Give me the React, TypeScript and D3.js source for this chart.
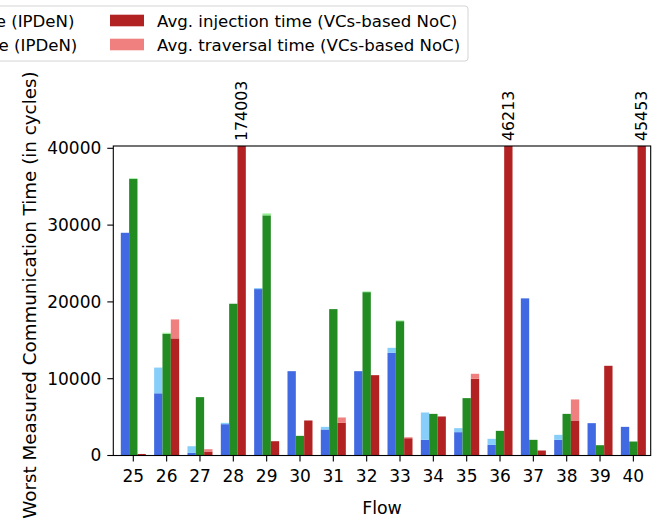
import React from 'react';
import * as d3 from 'd3';

const flows = ['25', '26', '27', '28', '29', '30', '31', '32', '33', '34', '35', '36', '37', '38', '39', '40'];
// baseline (blue), IPDeN (green), VCs-based NoC (red)
const blueInj = [29000, 8100, 340, 4080, 21670, 10980, 3390, 10980, 13370, 2040, 3040, 1380, 20460, 2040, 4210, 3730];
const blueTrav = [0, 3350, 870, 170, 130, 0, 340, 0, 650, 3560, 520, 790, 0, 650, 0, 0];
const greenInj = [36000, 15850, 7600, 19760, 31270, 2560, 19060, 21270, 17490, 5420, 7470, 3210, 2040, 5420, 1340, 1820];
const greenTrav = [100, 130, 0, 0, 250, 0, 0, 100, 100, 0, 0, 0, 0, 0, 0, 0];
const redInj = [200, 15250, 520, 174003, 1860, 4560, 4250, 10460, 2250, 5080, 9990, 46213, 650, 4560, 11680, 45453];
const redTrav = [0, 2470, 300, 0, 0, 0, 700, 0, 130, 0, 650, 0, 0, 2740, 0, 0];
const yTicks = [0, 10000, 20000, 30000, 40000];

const legendItems = [
  { label: 'Avg. injection time (Baseline)', color: 'royalblue' },
  { label: 'Avg. traversal time (Baseline)', color: 'lightskyblue' },
  { label: 'Avg. injection time (IPDeN)', color: 'forestgreen' },
  { label: 'Avg. traversal time (IPDeN)', color: 'lightgreen' },
  { label: 'Avg. injection time (VCs-based NoC)', color: 'firebrick' },
  { label: 'Avg. traversal time (VCs-based NoC)', color: 'lightcoral' },
];

const FONT = 'DejaVu Sans, sans-serif';

export default function App() {
  const left = 113.3, right = 650.7, top = 146, bottom = 455.5;
  const yMax = 40300;

  const x = d3.scaleLinear().domain([-0.6, flows.length - 1 + 0.52]).range([left, right]);
  const y = d3.scaleLinear().domain([0, yMax]).range([bottom, top]);
  const w = 0.25;
  const bw = x(w) - x(0);

  const series = [
    { inj: blueInj, trav: blueTrav, off: -w, c1: 'royalblue', c2: 'lightskyblue' },
    { inj: greenInj, trav: greenTrav, off: 0, c1: 'forestgreen', c2: 'lightgreen' },
    { inj: redInj, trav: redTrav, off: w, c1: 'firebrick', c2: 'lightcoral' },
  ];

  // legend columns (the box runs off the left edge)
  const colX = [-430, -196, 110];
  const rowY = [20.5, 44.5];

  return (
    <svg width={661} height={523} style={{ position: 'fixed', left: 0, top: 0, background: 'white' }} fontFamily={FONT}>
      <defs>
        <clipPath id="plot">
          <rect x={left} y={top} width={right - left} height={bottom - top} />
        </clipPath>
      </defs>

      <g clipPath="url(#plot)">
        {series.map((s, si) =>
          flows.map((f, i) => {
            const cx = x(i + s.off);
            const total = s.inj[i] + s.trav[i];
            return (
              <g key={`${si}-${i}`}>
                <rect x={cx - bw / 2} y={y(s.inj[i])} width={bw} height={y(0) - y(s.inj[i])} fill={s.c1} />
                {s.trav[i] > 0 && (
                  <rect x={cx - bw / 2} y={y(total)} width={bw} height={y(s.inj[i]) - y(total)} fill={s.c2} />
                )}
              </g>
            );
          })
        )}
      </g>

      {/* overflow labels */}
      {flows.map((f, i) => {
        const total = redInj[i] + redTrav[i];
        if (total <= yMax) return null;
        const cx = x(i + w);
        return (
          <text key={`a${i}`} transform={`translate(${cx},${top - 5}) rotate(-90)`} fontSize={15.8} dy="0.36em" fill="#000">
            {total}
          </text>
        );
      })}

      {/* frame */}
      <rect x={left} y={top} width={right - left} height={bottom - top} fill="none" stroke="#000" strokeWidth={1.1} />

      {/* y axis */}
      {yTicks.map((t) => (
        <g key={`y${t}`} transform={`translate(0,${y(t)})`}>
          <line x1={left - 6} x2={left} stroke="#000" strokeWidth={1.1} />
          <text x={left - 12} dy="0.35em" textAnchor="end" fontSize={17}>{t}</text>
        </g>
      ))}

      {/* x axis */}
      {flows.map((f, i) => (
        <g key={`x${f}`} transform={`translate(${x(i)},0)`}>
          <line y1={bottom} y2={bottom + 6} stroke="#000" strokeWidth={1.1} />
          <text y={481.7} textAnchor="middle" fontSize={17}>{f}</text>
        </g>
      ))}

      <text x={(left + right) / 2} y={514} textAnchor="middle" fontSize={17.4}>Flow</text>
      <text transform={`translate(36,295) rotate(-90)`} textAnchor="middle" fontSize={18.3}>
        Worst Measured Communication Time (in cycles)
      </text>

      {/* legend */}
      <rect x={-700} y={6} width={1168} height={55} rx={3} fill="white" fillOpacity={0.8} stroke="#d4d4d4" strokeWidth={1} />
      {legendItems.map((it, k) => {
        const col = Math.floor(k / 2);
        const row = k % 2;
        return (
          <g key={`l${k}`}>
            <rect x={colX[col]} y={rowY[row] - 5.8} width={34} height={11.6} fill={it.color} />
            <text x={colX[col] + 47} y={rowY[row] + 6} fontSize={16.6}>{it.label}</text>
          </g>
        );
      })}
    </svg>
  );
}
